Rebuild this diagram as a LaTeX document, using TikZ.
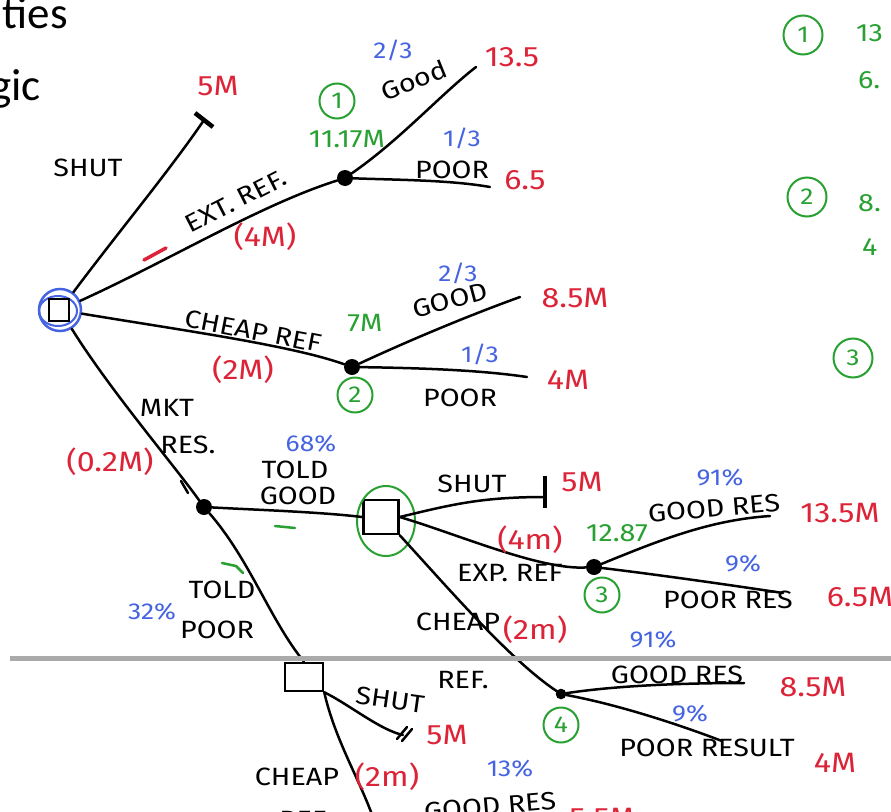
\documentclass[tikz,border=0pt]{standalone}
\usepackage{fontspec}
\setmainfont{Fira Sans}[FakeStretch=1.15]
\newfontfamily\slidefont{Carlito}
\usetikzlibrary{calc}
\definecolor{hred}{RGB}{220,35,55}
\definecolor{hgreen}{RGB}{40,160,50}
\definecolor{hblue}{RGB}{70,100,225}
\definecolor{sepgray}{RGB}{170,170,170}
\begin{document}
\begin{tikzpicture}[x=1pt,y=-1pt,
  branch/.style={line width=2.5pt, line cap=round, line join=round},
  lbl/.style={font=\fontsize{25}{27}\selectfont, inner sep=0pt},
  val/.style={lbl, text=hred, font=\fontsize{28}{30}\selectfont},
  ev/.style={lbl, text=hgreen, font=\fontsize{25}{27}\selectfont},
  prob/.style={lbl, text=hblue, font=\fontsize{23}{25}\selectfont},
  chance/.style={circle, fill=black, minimum size=16pt, inner sep=0pt},
  smallchance/.style={circle, draw, fill=black, line width=1.5pt, minimum size=9pt, inner sep=0pt},
  num/.style={circle, draw=hgreen, line width=2pt, text=hgreen, minimum size=35pt, inner sep=0pt, font=\fontsize{23}{23}\selectfont},
  dbox/.style={draw, line width=2.5pt, inner sep=0pt},
  endbar/.style={line width=4.5pt},
  greentick/.style={hgreen, line width=2.5pt, line cap=round},
  redtick/.style={hred, line width=3.5pt, line cap=round},
  rootnode/.style={circle, draw=hblue, line width=2.5pt, minimum size=42pt, inner sep=0pt},
  slide/.style={font=\slidefont\fontsize{45}{47}\selectfont, inner sep=0pt}
]
\useasboundingbox (0,0) rectangle (891,811);
\clip (0,0) rectangle (891,811);
\fill[white] (0,0) rectangle (891,811);

% slide text
\node[slide, anchor=base east] (t1) at (68,28) {ties};
\node[slide, anchor=base east] (t2) at (41,100) {gic};

% ---------- nodes ----------
\node[rootnode] (root) at (60,310) {};
\draw[hblue, line width=2pt] (58,311) ellipse [x radius=19pt, y radius=15pt];
\draw[line width=1.5pt] (49,299) rectangle (69,321);

\coordinate (eshut1) at (204,120);
\node[chance] (n1) at (345,178) {};
\coordinate (eg1) at (476,67);
\coordinate (ep1) at (490,187);

\node[chance] (n2) at (352,367) {};
\coordinate (eg2) at (520,297);
\coordinate (ep2) at (527,377);

\node[chance] (mr) at (204,507) {};
\node[dbox, minimum width=35pt, minimum height=34pt] (d1) at (381,517) {};
\draw[hgreen, line width=2pt] (386,521) ellipse [x radius=29pt, y radius=35pt];

\coordinate (eshut2) at (545,497);
\node[chance] (n3) at (594,567) {};
\coordinate (eg3) at (770,516);
\coordinate (ep3) at (783,593);

\node[smallchance] (n4) at (561,694) {};
\coordinate (eg4) at (744,683);
\coordinate (ep4) at (722,741);

\node[dbox, minimum width=38pt, minimum height=28pt] (d2) at (304,677) {};
\coordinate (eshut3) at (403,735);
\coordinate (ech3) at (374,820);

% ---------- branches ----------
\draw[branch] (root) .. controls (120,230) and (170,170) .. (eshut1);
\draw[endbar] ($(eshut1)+(-9,-7)$) -- ($(eshut1)+(9,7)$);
\draw[branch] (root) .. controls (170,260) and (260,205) .. (n1);
\draw[branch] (n1) .. controls (400,140) and (440,95) .. (eg1);
\draw[branch] (n1) .. controls (400,180) and (450,180) .. (ep1);

\draw[branch] (root) .. controls (180,330) and (290,345) .. (n2);
\draw[branch] (n2) .. controls (410,340) and (470,315) .. (eg2);
\draw[branch] (n2) .. controls (420,368) and (480,370) .. (ep2);

\draw[branch] (root) .. controls (110,390) and (170,460) .. (mr);
\draw[branch] (181,481) -- (188,493);
\draw[branch] (mr) .. controls (260,510) and (320,512) .. (d1.west);
\draw[branch] (mr) .. controls (250,560) and (270,620) .. (d2.north);

\draw[branch] (d1.east) .. controls (450,505) and (480,497) .. (eshut2);
\draw[endbar] (545,476) -- (545,508);
\draw[branch] (d1.east) .. controls (460,535) and (540,570) .. (n3);
\draw[branch] (n3) .. controls (660,540) and (710,520) .. (eg3);
\draw[branch] (n3) .. controls (660,575) and (730,585) .. (ep3);
\draw[branch] (d1.south east) .. controls (450,590) and (510,660) .. (n4);
\draw[branch] (n4) .. controls (620,685) and (690,683) .. (eg4);
\draw[branch] (n4) .. controls (620,705) and (680,725) .. (ep4);

\draw[branch] (d2.south east) .. controls (350,705) and (380,730) .. (eshut3);
\draw[branch] ($(eshut3)+(-6,4)$) -- ($(eshut3)+(4,-8)$);
\draw[branch] ($(eshut3)+(-1,6)$) -- ($(eshut3)+(9,-6)$);
\draw[branch] (d2.south east) .. controls (335,740) and (360,780) .. (ech3);

% ---------- labels: top ----------
\node[lbl] (l1) at (88,168) {SHUT};
\node[val] (v1) at (218,86) {5M};
\node[lbl, rotate=27] (l2) at (236,201) {EXT. REF.};
\node[val] (v2) at (265,237) {(4M)};
\draw[redtick] (144,260) -- (166,248);
\node[num] (c1) at (337,101) {1};
\node[ev] (x1) at (347,139) {11.17M};
\node[prob] (p1) at (393,50) {2/3};
\node[lbl, rotate=22] (l3) at (414,80) {Good};
\node[val] (v3) at (512,57) {13.5};
\node[prob] (p2) at (462,138) {1/3};
\node[lbl] (l4) at (452,170) {POOR};
\node[val] (v4) at (525,180) {6.5};

\node[lbl, rotate=-11] (l5) at (253,331) {CHEAP REF};
\node[val] (v5) at (243,370) {(2M)};
\node[ev] (x2) at (365,323) {7M};
\node[num] (c2) at (355,395) {2};
\node[prob] (p3) at (458,273) {2/3};
\node[lbl, rotate=15] (l6) at (450,300) {GOOD};
\node[val] (v6) at (575,298) {8.5M};
\node[prob] (p4) at (480,354) {1/3};
\node[lbl] (l7) at (460,398) {POOR};
\node[val] (v7) at (568,380) {4M};

% ---------- labels: market research ----------
\node[lbl] (l8) at (167,408) {MKT};
\node[lbl] (l9) at (188,445) {RES.};
\node[val] (v8) at (110,462) {(0.2M)};
\node[prob] (p5) at (311,444) {68\%};
\node[lbl] (l10) at (295,470) {TOLD};
\node[lbl] (l11) at (298,496) {GOOD};
\draw[greentick] (275,526) -- (295,528);
\draw[greentick] (222,563) -- (236,566) -- (243,573);
\node[lbl] (l12) at (222,590) {TOLD};
\node[lbl] (l13) at (217,630) {POOR};
\node[prob] (p6) at (152,612) {32\%};

% ---------- labels: after told good ----------
\node[lbl] (l14) at (472,484) {SHUT};
\node[val] (v9) at (582,482) {5M};
\node[val] (v10) at (530,540) {(4m)};
\node[ev] (x3) at (617,533) {12.87};
\node[lbl] (l15) at (510,573) {EXP. REF};
\node[num] (c3) at (602,595) {3};
\node[prob] (p7) at (720,478) {91\%};
\node[lbl, rotate=5] (l16) at (714,508) {GOOD RES};
\node[val] (v11) at (840,513) {13.5M};
\node[prob] (p8) at (743,564) {9\%};
\node[lbl] (l17) at (728,600) {POOR RES};
\node[val] (v12) at (860,597) {6.5M};

\node[lbl] (l18) at (458,622) {CHEAP};
\node[val] (v13) at (535,630) {(2m)};
\node[lbl] (l19) at (463,680) {REF.};
\node[prob] (p9) at (653,640) {91\%};
\node[lbl] (l20) at (677,675) {GOOD RES};
\node[val] (v14) at (813,687) {8.5M};
\node[num] (c4) at (561,725) {4};
\node[prob] (p10) at (690,714) {9\%};
\node[lbl] (l21) at (707,748) {POOR RESULT};
\node[val] (v15) at (835,763) {4M};

% ---------- labels: after told poor ----------
\node[lbl, rotate=-8] (l22) at (390,700) {SHUT};
\node[val] (v16) at (447,735) {5M};
\node[lbl] (l23) at (297,777) {CHEAP};
\node[val] (v17) at (387,777) {(2m)};
\node[prob] (p11) at (510,769) {13\%};
\node[lbl, rotate=5] (l24) at (490,806) {GOOD RES};
\node[val] (v18) at (602,818) {5.5M};
\node[lbl] (l25) at (305,820) {REF.};

% ---------- right column ----------
\node[num, minimum size=39pt] (r1) at (803,35) {1};
\node[ev, anchor=west] (r1a) at (856,33) {13};
\node[ev, anchor=west] (r1b) at (858,80) {6.};
\node[num, minimum size=39pt] (r2) at (807,197) {2};
\node[ev, anchor=west] (r2a) at (858,203) {8.};
\node[ev, anchor=west] (r2b) at (862,247) {4};
\node[num, minimum size=39pt] (r3) at (853,358) {3};

% slide separator
\draw[sepgray, line width=5pt] (10,658) -- (891,658);
\end{tikzpicture}
\end{document}
